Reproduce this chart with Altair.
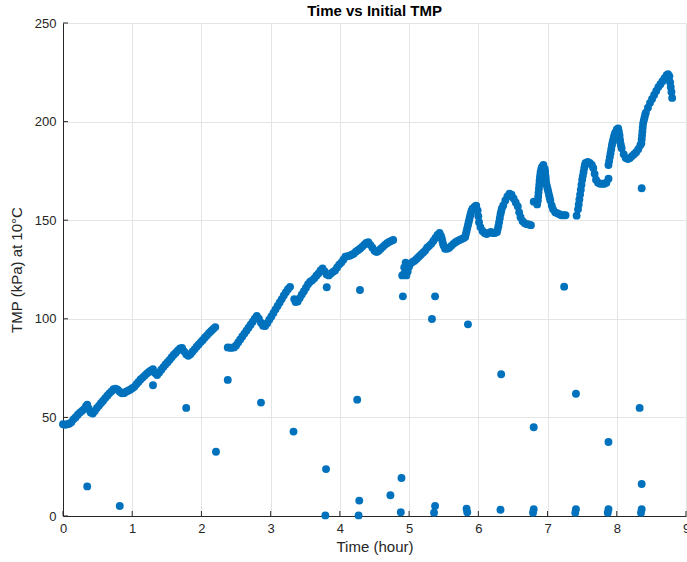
import altair as alt
import pandas as pd

# Continuous TMP trace (time in hours, TMP in kPa at 10 °C)
trace_time = [
    0.00, 0.03, 0.06, 0.09, 0.12, 0.15, 0.18, 0.21, 0.24, 0.27, 0.30, 0.33, 0.35, 0.37, 0.40,
    0.43, 0.46, 0.49, 0.52, 0.55, 0.58, 0.61, 0.64, 0.67, 0.70, 0.73, 0.76, 0.79, 0.82, 0.85,
    0.88, 0.91, 0.94, 0.97, 1.00, 1.03, 1.06, 1.09, 1.12, 1.15, 1.18, 1.21, 1.24, 1.27, 1.30,
    1.33, 1.36, 1.39, 1.42, 1.45, 1.48, 1.51, 1.54, 1.57, 1.60, 1.63, 1.66, 1.69, 1.72, 1.75,
    1.78, 1.81, 1.84, 1.87, 1.90, 1.93, 1.96, 1.99, 2.02, 2.05, 2.08, 2.11, 2.14, 2.17, 2.20,
    2.38, 2.41, 2.44, 2.47, 2.50, 2.53, 2.56, 2.59, 2.62, 2.65, 2.68, 2.71, 2.74, 2.77, 2.80,
    2.83, 2.86, 2.89, 2.92, 2.95, 2.98, 3.01, 3.04, 3.07, 3.10, 3.13, 3.16, 3.19, 3.22, 3.25,
    3.28,
    3.34, 3.36, 3.39, 3.42, 3.45, 3.48, 3.51, 3.54, 3.57, 3.60, 3.63, 3.66, 3.69, 3.72, 3.75,
    3.78, 3.81, 3.84, 3.87, 3.90, 3.93, 3.96, 3.99, 4.02, 4.05, 4.08, 4.11, 4.14, 4.17, 4.20,
    4.23, 4.26, 4.29, 4.32, 4.35, 4.38, 4.41, 4.44, 4.47, 4.50, 4.53, 4.56, 4.59, 4.62, 4.65,
    4.68, 4.71, 4.74, 4.77,
    4.90, 4.92, 4.93, 4.95, 4.96, 4.98, 5.00, 5.02, 5.05, 5.08, 5.11, 5.14, 5.17, 5.20, 5.23,
    5.26, 5.29, 5.32, 5.35, 5.38, 5.41, 5.44, 5.46, 5.48, 5.50, 5.52, 5.55, 5.58, 5.61, 5.64,
    5.67, 5.70, 5.73, 5.76, 5.79,
    5.82, 5.84, 5.86, 5.88, 5.90, 5.92, 5.95, 5.97, 5.99, 6.00, 6.01, 6.03, 6.06, 6.09, 6.12,
    6.15, 6.18, 6.21, 6.24, 6.27, 6.29, 6.31, 6.33, 6.36, 6.39, 6.42, 6.45, 6.48, 6.51, 6.54,
    6.57, 6.59, 6.61, 6.64, 6.67, 6.70, 6.73, 6.76,
    6.86, 6.87, 6.88, 6.89, 6.90, 6.92, 6.94, 6.96, 6.97, 6.98, 7.00, 7.02, 7.04, 7.06, 7.08,
    7.11, 7.14, 7.17, 7.20, 7.23, 7.26,
    7.45, 7.47, 7.49, 7.51, 7.53, 7.55, 7.58, 7.61, 7.64, 7.66, 7.68, 7.70, 7.73, 7.76, 7.79,
    7.82, 7.85, 7.88,
    7.88, 7.90, 7.92, 7.94, 7.96, 7.98, 8.00, 8.02, 8.04, 8.05, 8.07, 8.10, 8.13, 8.16, 8.19,
    8.22, 8.25, 8.28, 8.31, 8.34,
    8.36, 8.37, 8.38, 8.40, 8.42, 8.45, 8.48, 8.51, 8.54, 8.57, 8.60, 8.63, 8.66, 8.69, 8.72,
    8.74, 8.76, 8.77, 8.78, 8.79, 8.80,
    # readings on the steep rises and drops
    5.81, 5.83, 5.85, 5.87, 5.89, 5.91, 5.47, 5.49,
    6.28, 6.30, 6.32, 6.34,
    6.85, 6.865, 6.875, 6.885, 6.895, 6.91, 6.965, 6.975, 6.99, 7.01, 7.03,
    7.44, 7.46, 7.48, 7.50, 7.52, 7.54,
    7.89, 7.91, 7.93, 7.95, 7.97, 8.03, 8.045, 8.06,
    8.355, 8.365, 8.375, 8.39, 8.41,
]
trace_tmp = [
    46.5, 46.3, 46.5, 46.8, 47.5, 49.0, 50.0, 51.2, 52.3, 53.2, 54.0, 55.5, 56.5, 54.5, 52.5,
    52.0, 53.3, 54.8, 56.0, 57.3, 58.5, 59.8, 61.0, 62.2, 63.2, 64.3, 64.6, 64.0, 63.0, 62.2,
    62.3, 63.0, 63.5, 64.0, 64.8, 65.5, 66.8, 68.0, 69.2, 70.2, 71.2, 72.2, 73.0, 73.8, 74.5,
    72.5, 71.5, 72.8, 74.2, 75.5, 76.8, 78.0, 79.2, 80.5, 81.8, 82.8, 84.0, 85.0, 85.2, 83.5,
    82.0, 81.2, 82.0, 83.3, 84.5, 85.8, 87.0, 88.2, 89.3, 90.5, 91.6, 92.8, 93.8, 94.8, 95.8,
    85.5, 85.3, 85.3, 85.5, 86.5, 88.0, 89.5, 91.0, 92.5, 94.0, 95.5, 97.0, 98.5, 100.0, 101.5,
    100.0, 98.0, 96.5, 96.3, 97.8, 99.5, 101.2, 103.0, 104.8, 106.5, 108.3, 110.0, 111.8, 113.5, 115.0,
    116.2,
    110.0, 108.5, 108.8, 110.5, 112.3, 114.0, 115.8, 117.5, 118.8, 119.5, 120.5, 121.8, 123.0, 124.5, 125.5,
    124.0, 122.5, 122.0, 123.0, 123.8, 124.5, 126.0, 127.5, 128.5, 130.0, 131.5, 131.8, 132.0, 132.5, 133.0,
    134.0, 134.8, 135.5, 136.5, 137.5, 138.5, 138.8, 137.5, 136.0, 134.5, 133.8, 134.5, 135.5, 136.5, 137.5,
    138.3, 139.0, 139.5, 140.0,
    122.0, 122.5, 126.0, 128.5, 122.0, 124.0, 126.5, 128.0, 128.8, 129.5, 130.5, 131.5, 132.5, 133.5, 134.5,
    136.0, 137.0, 138.0, 139.5, 141.0, 142.5, 143.5, 142.0, 139.5, 137.0, 135.5, 135.5, 136.0, 137.0, 138.0,
    138.8, 139.5, 140.0, 140.5, 141.0,
    143.0, 146.0, 149.0, 152.0, 154.5, 156.0, 157.0, 157.3, 155.0, 152.0, 149.0, 146.5, 144.5, 143.5, 143.0,
    143.5, 144.0, 143.5, 143.5, 144.0, 147.0, 151.0, 154.5, 157.5, 160.0, 162.0, 163.5, 163.0, 161.0, 159.0,
    157.0, 154.0, 151.5, 149.5, 148.5, 148.0, 147.8, 147.5,
    160.0, 164.0, 168.0, 171.5, 174.5, 177.0, 178.0, 176.0, 172.5, 169.0, 166.0, 163.0, 160.0, 157.5, 155.5,
    154.0, 153.5, 153.0, 152.5, 152.5, 152.5,
    158.0, 163.0, 168.0, 172.5, 176.5, 179.0, 179.5, 179.0, 178.0, 176.5, 173.5, 170.5, 169.0, 168.5, 168.5,
    168.5, 169.0, 171.0,
    178.0, 182.0, 186.0, 189.5, 192.5, 194.5, 196.0, 196.5, 193.0, 189.5, 186.5, 183.5, 181.5, 181.0, 181.5,
    182.5, 183.5, 184.5, 186.0, 188.0,
    191.0, 195.0, 199.0, 202.0, 204.5, 207.0, 209.5, 211.5, 213.5, 215.5, 217.5, 219.0, 220.5, 222.0, 223.5,
    224.0, 223.0, 220.0, 217.5, 215.0, 212.0,
    # readings on the steep rises and drops
    141.5, 144.5, 147.5, 150.5, 153.3, 155.3, 141.0, 138.0,
    145.5, 149.0, 153.0, 156.0,
    158.0, 162.0, 166.0, 170.0, 173.0, 176.0, 174.5, 171.0, 167.5, 164.5, 161.5,
    155.5, 160.5, 165.5, 170.5, 174.5, 178.0,
    180.0, 184.0, 188.0, 191.0, 193.5, 195.0, 191.0, 188.0,
    189.0, 193.0, 197.0, 200.5, 203.5,
]

# Isolated readings away from the main trace
spot_time = [
    0.35, 0.82, 1.30, 1.78, 2.21, 2.38, 2.86, 3.33, 3.80, 3.79, 3.81, 4.25, 4.28, 4.27, 4.29,
    4.91, 5.375, 5.33, 5.85, 7.24, 6.33, 7.41, 8.33, 6.80, 7.88, 4.89, 4.73, 8.36,
    4.88, 5.375, 5.36, 5.83, 5.84, 6.32, 6.80, 6.79, 7.41, 7.40, 7.88, 7.87, 8.36, 8.35,
    8.36, 6.80, 7.42,
]
spot_tmp = [
    15.0, 5.1, 66.3, 54.8, 32.6, 69.0, 57.5, 42.8, 23.8, 0.3, 116.0, 59.0, 7.8, 0.3, 114.6,
    111.4, 111.4, 99.9, 97.2, 116.3, 71.9, 62.0, 54.8, 45.0, 37.5, 19.3, 10.5, 16.2,
    1.9, 5.1, 1.7, 3.7, 1.9, 3.2, 3.4, 1.7, 3.4, 1.7, 3.4, 1.7, 3.4, 1.7,
    166.2, 159.4, 152.3,
]

x_ticks = [0, 1, 2, 3, 4, 5, 6, 7, 8, 9]
y_ticks = [0, 50, 100, 150, 200, 250]

W, H = 623, 493
BLUE = "#0072BD"
AXIS = "#262626"
FONT = "Liberation Sans"

points = pd.DataFrame({
    "t": trace_time + spot_time,
    "tmp": trace_tmp + spot_tmp,
})

x_scale = alt.Scale(domain=[0, 9], nice=False, zero=False)
y_scale = alt.Scale(domain=[0, 250], nice=False)

axis_style = dict(
    labelFont=FONT, titleFont=FONT, labelFontSize=13, titleFontSize=15,
    titleFontWeight="normal", labelColor=AXIS, titleColor=AXIS,
    domainColor=AXIS, domainWidth=1, ticks=False, tickSize=0,
    grid=True, gridColor="#e4e4e4", gridWidth=1, format="d",
    labelFlush=False, labelOverlap=False,
)

x_axis = alt.Axis(values=x_ticks, title="Time (hour)", labelPadding=6, titlePadding=4,
                  **axis_style)
y_axis = alt.Axis(values=y_ticks, title="TMP (kPa) at 10°C", labelPadding=7, titlePadding=10,
                  **axis_style)

scatter = alt.Chart(points).mark_circle(size=62, color=BLUE, opacity=1).encode(
    x=alt.X("t:Q", scale=x_scale, axis=x_axis),
    y=alt.Y("tmp:Q", scale=y_scale, axis=y_axis),
)

# Inward-pointing tick marks along the bottom and left edges
xt = alt.Chart(pd.DataFrame({"t": x_ticks})).mark_rule(color=AXIS, strokeWidth=1).encode(
    x=alt.X("t:Q", scale=x_scale),
    y=alt.value(H),
    y2=alt.value(H - 5),
)
yt = alt.Chart(pd.DataFrame({"tmp": y_ticks})).mark_rule(color=AXIS, strokeWidth=1).encode(
    y=alt.Y("tmp:Q", scale=y_scale),
    x=alt.value(0),
    x2=alt.value(5),
)

chart = alt.layer(scatter, xt, yt).properties(
    width=W,
    height=H,
    background="white",
    title=alt.TitleParams("Time vs Initial TMP", font=FONT, fontSize=15, fontWeight="bold",
                          color="#000000", anchor="middle", offset=-2),
    autosize=alt.AutoSizeParams(type="none"),
    padding={"left": 63, "top": 23, "right": 1, "bottom": 46},
).configure_view(
    stroke=None,
)

chart.save("out.html", embed_options={"renderer": "svg", "actions": False})
